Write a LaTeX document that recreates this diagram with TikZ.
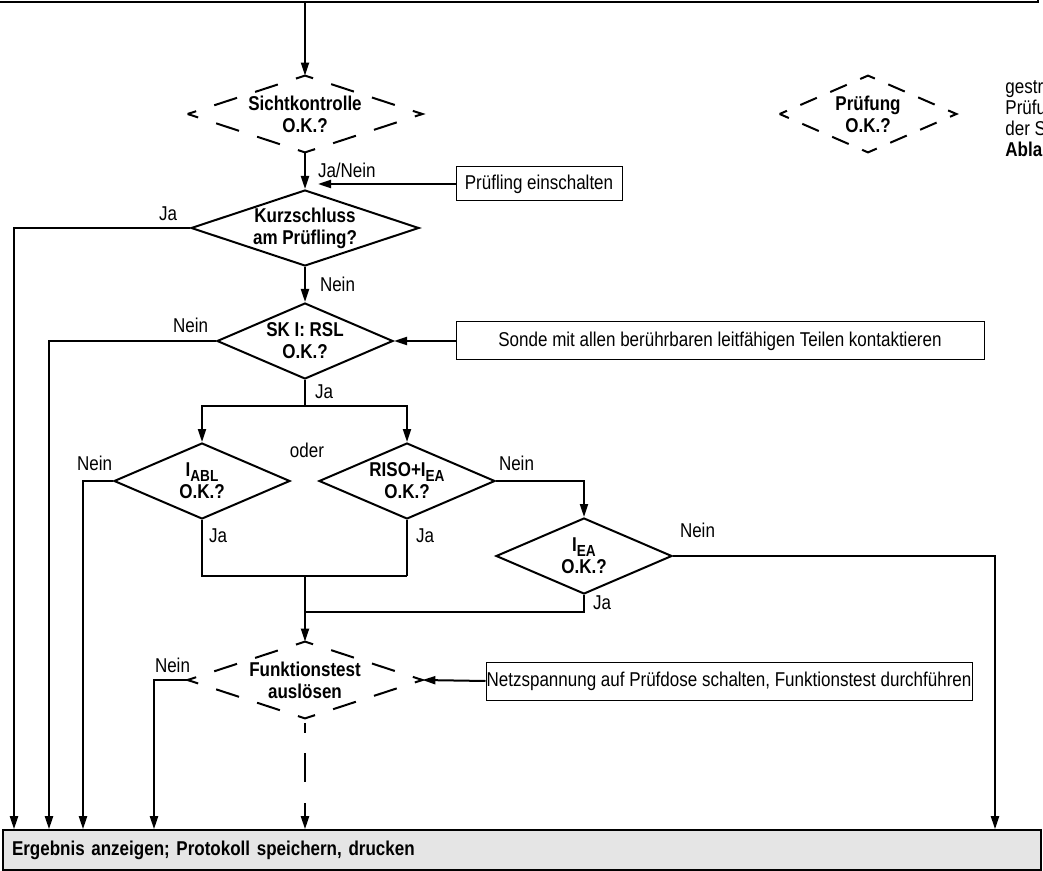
\documentclass[tikz,border=0pt]{standalone}
\usepackage{fontspec}
\setmainfont{Liberation Sans}[FakeStretch=0.85]
\usetikzlibrary{
    arrows.meta,
    positioning,
    shapes.geometric,
    calc
}
\newcommand{\tsub}[1]{\raisebox{-2.2pt}{\fontsize{8}{8}\selectfont #1}}

\begin{document}
\begin{tikzpicture}[
    x=0.5pt, y=-0.5pt,
    >={Triangle[length=6.5pt,width=4pt]},
    font=\fontsize{10}{11}\selectfont,
    line/.style={line width=1pt},
    flow/.style={line, ->},
    lbl/.style={inner sep=0pt},
    dlbl/.style={font=\fontsize{10}{11}\selectfont\bfseries, align=center, inner sep=0pt},
    decision/.style={diamond, draw, line width=1pt, inner sep=0pt,
        minimum width=88pt, minimum height=38pt},
    ghost/.style={diamond, inner sep=0pt, minimum width=117pt, minimum height=38pt},
    dashdiam/.style={line width=1pt,
        dash pattern=on 9pt off 9.5pt on 12pt off 9.5pt on 12pt off 9.5pt,
        dash phase=4.5pt},
    dashdiamsmall/.style={line width=1pt,
        dash pattern=on 8pt off 7.3pt on 9pt off 7.3pt on 9pt off 7.33pt,
        dash phase=4pt},
    box/.style={draw, line width=0.5pt, inner sep=0pt, minimum height=19pt},
    resbox/.style={draw, line width=0.8pt, fill=black!10, inner xsep=4.5pt, inner ysep=0pt,
        minimum width=519pt, minimum height=20pt, text width=510pt, align=left,
        font=\fontsize{10}{11}\selectfont\bfseries},
    legtxt/.style={anchor=base west, inner sep=0pt}
]
\useasboundingbox (0,0) rectangle (1043,871);

% frame above
\draw[line] (0,2) -- (1038,2) -- (1038,0);
\coordinate (top) at (305,2);

% decisions
\node[ghost, label={[dlbl]center:{Sichtkontrolle\\O.K.?}}] (sicht) at (305,114) {};
\node[decision, minimum width=114pt, label={[dlbl]center:{Kurzschluss\\am Prüfling?}}] (kurz) at (305,228) {};
\node[decision, label={[dlbl]center:{SK I: RSL\\O.K.?}}] (skone) at (305,341) {};
\node[decision, label={[dlbl]center:{I\tsub{ABL}\\O.K.?}}] (abl) at (202,481) {};
\node[decision, label={[dlbl]center:{RISO+I\tsub{EA}\\O.K.?}}] (riso) at (407,481) {};
\node[decision, label={[dlbl]center:{I\tsub{EA}\\O.K.?}}] (iea) at (584,556) {};
\node[ghost, label={[dlbl]center:{Funktionstest\\auslösen}}] (funk) at (305,680) {};

\draw[dashdiam] (sicht.west) -- (sicht.north) -- (sicht.east) -- (sicht.south) -- cycle;
\draw[dashdiam] (funk.west) -- (funk.north) -- (funk.east) -- (funk.south) -- cycle;

% actions
\node[box, minimum width=83pt, minimum height=17pt] (einsch) at (539,184) {Prüfling einschalten};
\node[box, minimum width=264pt] (sonde) at (720,341) {Sonde mit allen berührbaren leitfähigen Teilen kontaktieren};
\node[box, minimum width=243pt] (netz) at (729,681) {Netzspannung auf Prüfdose schalten, Funktionstest durchführen};
\node[resbox] (result) at (522,850) {Ergebnis anzeigen; Protokoll speichern, drucken};

% legend
\node[ghost, minimum width=88pt, label={[dlbl]center:{Prüfung\\O.K.?}}] (pruef) at (868,114) {};
\draw[dashdiamsmall] (pruef.west) -- (pruef.north) -- (pruef.east) -- (pruef.south) -- cycle;
\begin{scope}
\clip (0,0) rectangle (1043,871);
\node[legtxt] (leg1) at (1005,94) {gestr};
\node[legtxt] (leg2) at (1005,115) {Prüfu};
\node[legtxt] (leg3) at (1005,136) {der S};
\node[legtxt, font=\fontsize{10}{11}\selectfont\bfseries] (leg4) at (1005,157) {Ablau};
\end{scope}

% exits to the result bar
\coordinate (ba) at (14,830);
\coordinate (bb) at (49,830);
\coordinate (bc) at (83,830);
\coordinate (bd) at (154,830);
\coordinate (be) at (995,830);
\coordinate (kin) at (318,184);

% connectors
\draw[flow] (top) -- (sicht.north);
\draw[flow] (sicht.south) -- node[lbl, right=6pt] (ljanein) {Ja/Nein} (kurz.north);
\draw[flow] (einsch.west) -- (kin);
\draw[flow] (kurz.west) node[lbl, above left=3pt and 6pt] (lja1) {Ja} -| (ba |- result.north);
\draw[flow] (kurz.south) -- node[lbl, right=7pt] (lnein1) {Nein} (skone.north);
\draw[flow] (sonde.west) -- (skone.east);
\draw[flow] (skone.west) node[lbl, above left=3.5pt and 3.5pt] (lnein2) {Nein} -| (bb |- result.north);
\draw[line] (skone.south) node[lbl, below right=2pt and 4.5pt] (lja2) {Ja} -- ++(0,26) coordinate (split);
\draw[flow] (split) -| (abl.north);
\draw[flow] (split) -| (riso.north);
\node[lbl] (loder) at (307,450) {oder};
\draw[flow] (abl.west) node[lbl, above left=4.5pt and 0pt] (lnein3) {Nein} -| (bc |- result.north);
\draw[line] (abl.south) node[lbl, below right=4pt and 3pt] (lja3) {Ja} -- ++(0,56) coordinate (joinl) -- (joinl -| riso.south);
\draw[line] (riso.south) node[lbl, below right=4pt and 4pt] (lja4) {Ja} -- (riso.south |- joinl);
\draw[flow] (joinl -| funk.north) -- (funk.north);
\draw[flow] (riso.east) node[lbl, above right=4.5pt and 1pt] (lnein4) {Nein} -| (iea.north);
\draw[line] (iea.south) node[lbl, below right=0pt and 4pt] (lja5) {Ja} -- ++(0,17) coordinate (joinr) -- (joinr -| funk.north);
\draw[flow] (iea.east) node[lbl, above right=8.5pt and 3pt] (lnein5) {Nein} -| (be |- result.north);
\draw[flow] (netz.west) -- (funk.east);
\draw[flow] (funk.west) -| node[lbl, pos=0.5, above right=3pt and 0pt] (lnein6) {Nein} (bd |- result.north);
\draw[flow, dash pattern=on 5pt off 10pt on 14.5pt off 10.5pt on 20pt off 2.5pt, dash phase=60pt]
    (funk.south) -- (funk.south |- result.north);

\end{tikzpicture}
\end{document}
